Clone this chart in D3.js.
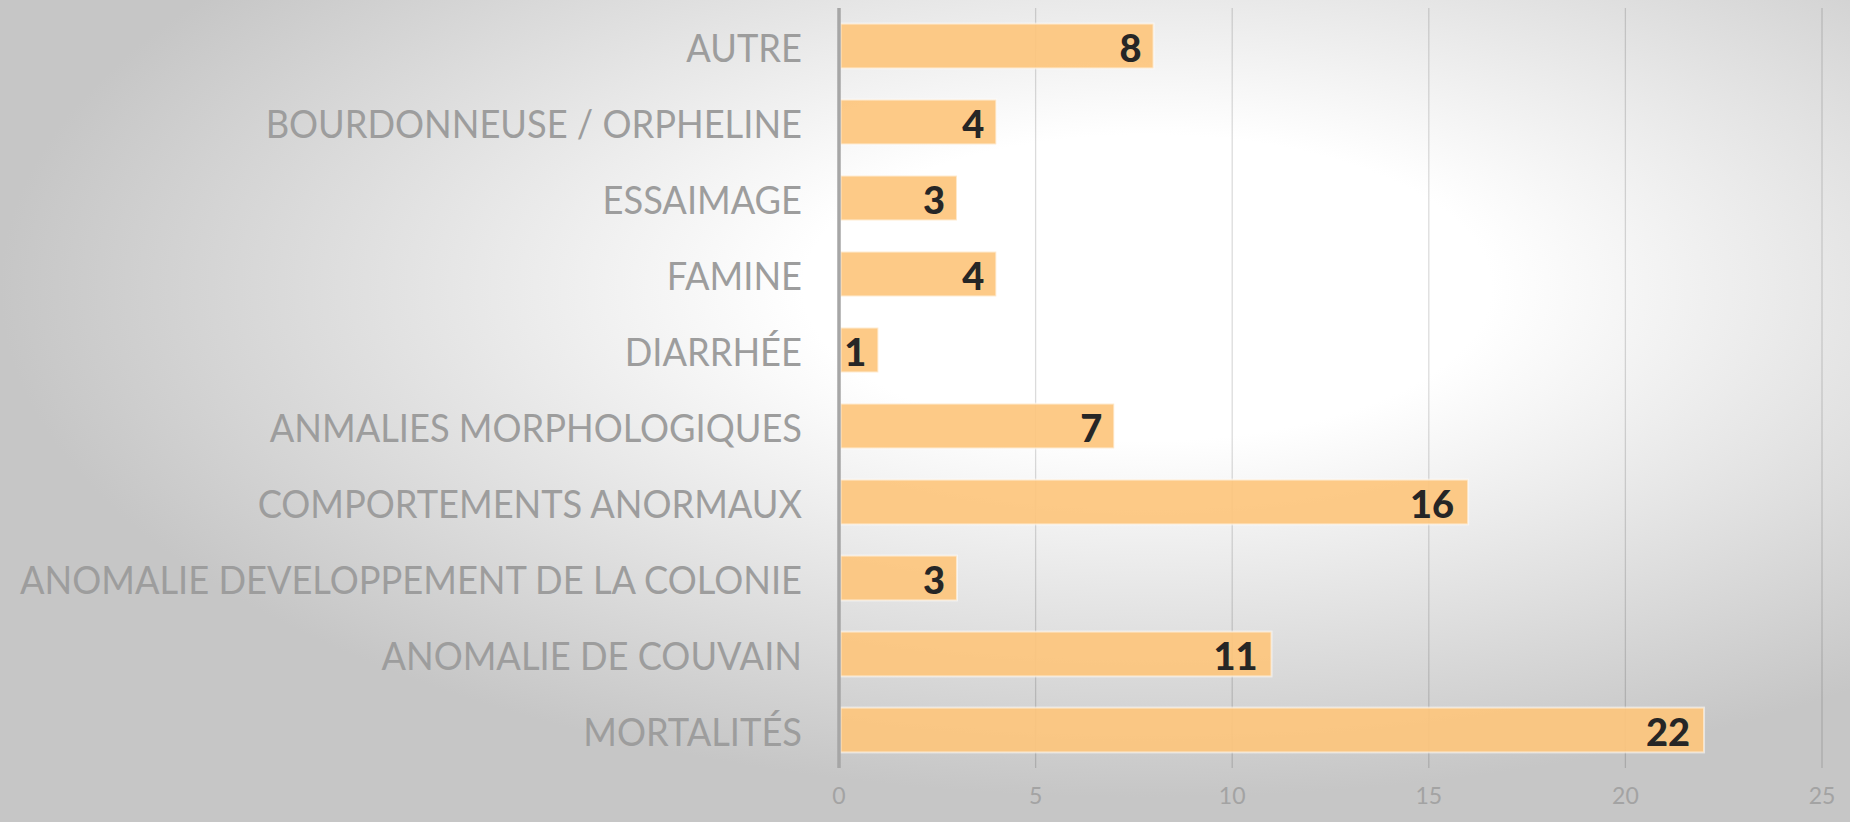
<!DOCTYPE html>
<html>
<head>
<meta charset="utf-8">
<script src="https://cdn.jsdelivr.net/npm/d3@7"></script>
<style>
  body { margin: 0; padding: 0; overflow: hidden; }
  svg { display: block; }
</style>
</head>
<body>
<div id="my_dataviz"></div>
<script>

var categories = ['AUTRE', 'BOURDONNEUSE / ORPHELINE', 'ESSAIMAGE', 'FAMINE', 'DIARRHÉE',
    'ANMALIES MORPHOLOGIQUES', 'COMPORTEMENTS ANORMAUX', 'ANOMALIE DEVELOPPEMENT DE LA COLONIE',
    'ANOMALIE DE COUVAIN', 'MORTALITÉS'];
var values = [8, 4, 3, 4, 1, 7, 16, 3, 11, 22];
var tickValues = [0, 5, 10, 15, 20, 25];

var W = 1850, H = 822;
var axisX = 839, plotRight = 1822, plotTop = 8, plotBottom = 768;

var svg = d3.select("#my_dataviz")
    .append("svg")
      .attr("width", W)
      .attr("height", H);

// background: soft radial gradient, white in the middle, grey at the edges
var defs = svg.append("defs");
var grad = defs.append("radialGradient")
    .attr("id", "bg")
    .attr("cx", "0.62").attr("cy", "0.35").attr("r", "0.62");
grad.append("stop").attr("offset", "0").attr("stop-color", "#ffffff");
grad.append("stop").attr("offset", "0.3").attr("stop-color", "#ffffff");
grad.append("stop").attr("offset", "1").attr("stop-color", "#c6c6c6");

svg.append("rect")
    .attr("width", W).attr("height", H)
    .attr("fill", "url(#bg)");

var x = d3.scaleLinear().domain([0, 25]).range([axisX, plotRight]);
var y = d3.scaleBand()
    .domain(categories)
    .range([plotTop, plotBottom])
    .paddingInner(0.41)
    .paddingOuter(0.205);

// vertical gridlines
svg.append("g")
    .selectAll("line")
    .data(tickValues.filter(function(d) { return d > 0; }))
    .enter()
    .append("line")
    .attr("x1", function(d) { return x(d); })
    .attr("x2", function(d) { return x(d); })
    .attr("y1", plotTop)
    .attr("y2", plotBottom)
    .style("stroke", "rgba(0,0,0,0.14)")
    .style("stroke-width", 1.3);

// bars
svg.append("g")
    .selectAll("rect")
    .data(values)
    .enter()
    .append("rect")
    .attr("x", x(0) + 1.5)
    .attr("y", function(d, i) { return y(categories[i]); })
    .attr("width", function(d) { return x(d) - x(0) - 1.5; })
    .attr("height", y.bandwidth())
    .style("fill", "#fdc67d")
    .style("fill-opacity", 0.92)
    .style("stroke", "rgba(255,255,255,0.55)")
    .style("stroke-width", 2);

// value labels inside the bars
svg.append("g")
    .selectAll("text")
    .data(values)
    .enter()
    .append("text")
    .attr("x", function(d) { return x(d) - (d < 10 ? 12 : 14); })
    .attr("y", function(d, i) { return y(categories[i]) + y.bandwidth() / 2 + 1; })
    .attr("text-anchor", "end")
    .attr("dominant-baseline", "central")
    .style("font-family", "Lato, 'Open Sans', sans-serif")
    .style("font-weight", 900)
    .style("font-size", "38px")
    .style("fill", "#262626")
    .text(function(d) { return d; });

// value axis line
svg.append("line")
    .attr("x1", axisX).attr("x2", axisX)
    .attr("y1", plotTop).attr("y2", plotBottom)
    .style("stroke", "#a6a6a6")
    .style("stroke-width", 3.5);

// tick labels
svg.append("g")
    .selectAll("text")
    .data(tickValues)
    .enter()
    .append("text")
    .attr("x", function(d) { return x(d); })
    .attr("y", 795)
    .attr("text-anchor", "middle")
    .attr("dominant-baseline", "central")
    .style("font-family", "Lato, sans-serif")
    .style("font-weight", 400)
    .style("font-size", "23px")
    .style("fill", "#a3a3a3")
    .text(function(d) { return d; });

// category labels, squeezed a bit to look like the narrow original face
var labels = svg.append("g")
    .selectAll("text")
    .data(categories)
    .enter()
    .append("text")
    .attr("x", 802)
    .attr("y", function(d) { return y(d) + y.bandwidth() / 2 + 1; })
    .attr("text-anchor", "end")
    .attr("dominant-baseline", "central")
    .style("font-family", "Lato, sans-serif")
    .style("font-weight", 400)
    .style("font-size", "38px")
    .style("fill", "#9d9d9d")
    .text(function(d) { return d; });

var longest = d3.max(labels.nodes(), function(n) { return n.getComputedTextLength(); });
var k = 782 / longest;
labels.each(function() {
    var w = this.getComputedTextLength();
    d3.select(this)
      .attr("textLength", w * k)
      .attr("lengthAdjust", "spacingAndGlyphs");
});

</script>
</body>
</html>
